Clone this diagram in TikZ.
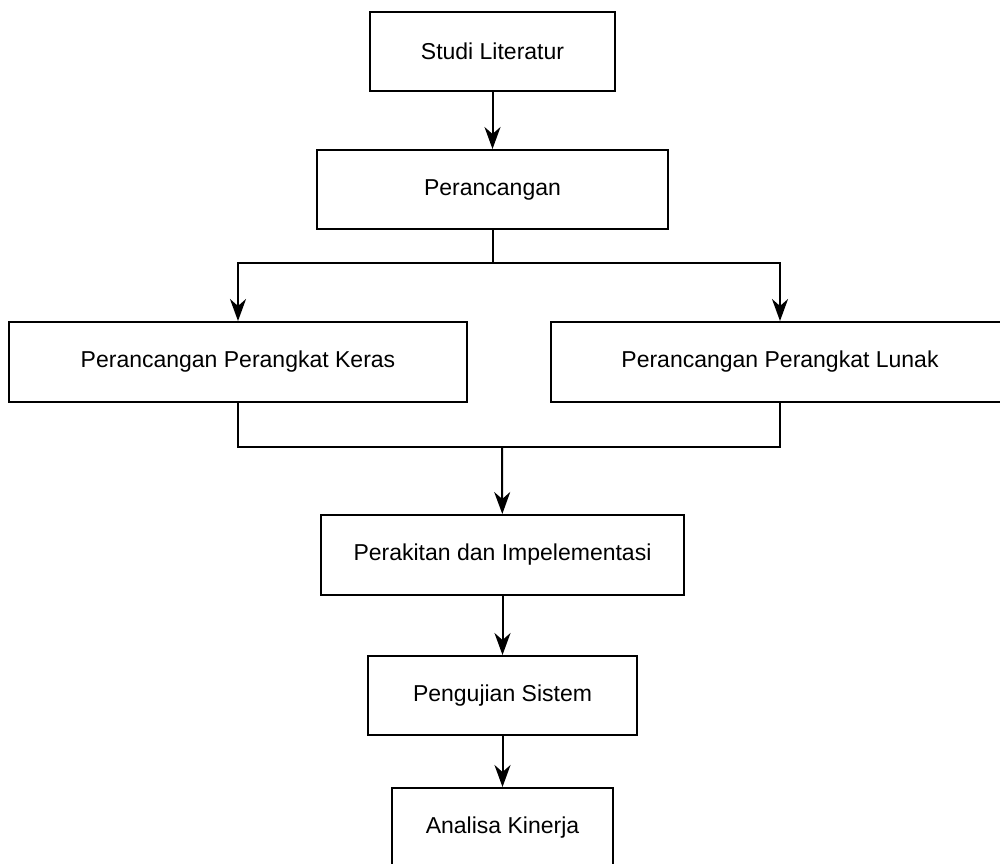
\documentclass[tikz,border=0pt]{standalone}
\usepackage{fontspec}
\setmainfont{Liberation Sans}
\usetikzlibrary{arrows.meta}

\begin{document}
\begin{tikzpicture}[x=0.5pt, y=-0.5pt,
    box/.style={draw, line width=1pt, fill=white, inner sep=0pt, font=\fontsize{11.5}{14}\selectfont},
    flow/.style={line width=1pt, -{Stealth[length=11pt, width=8pt, inset=3.5pt]}},
    link/.style={line width=1pt}]
    \useasboundingbox (0, 0) rectangle (1000, 863);
    \clip (0, 0) rectangle (1000, 863);

    % Boxes
    \node[box, minimum width=122.5pt, minimum height=39.5pt] (studi) at (492.5, 51.5) {Studi Literatur};
    \node[box, minimum width=175.5pt, minimum height=39.5pt] (peran) at (492.5, 189.5) {Perancangan};
    \node[box, minimum width=229pt, minimum height=40pt] (keras) at (238, 362) {Perancangan Perangkat Keras};
    \node[box, minimum width=229pt, minimum height=40pt] (lunak) at (780, 362) {Perancangan Perangkat Lunak};
    \node[box, minimum width=181.5pt, minimum height=40pt] (rakit) at (502.5, 555) {Perakitan dan Impelementasi};
    \node[box, minimum width=134.5pt, minimum height=39.5pt] (uji) at (502.5, 695.5) {Pengujian Sistem};
    \node[box, minimum width=110.5pt, minimum height=40pt] (analisa) at (502.5, 828) {Analisa Kinerja};

    % Branch and join points
    \coordinate (split) at (492.5, 263);
    \coordinate (join) at (502, 447);

    % Connectors
    \draw[flow] (studi) -- (peran);
    \draw[link] (peran) -- (split);
    \draw[flow] (split) -| (keras);
    \draw[flow] (split) -| (lunak);
    \draw[link] (keras) |- (join);
    \draw[link] (lunak) |- (join);
    \draw[flow] (join) -- (rakit);
    \draw[flow] (rakit) -- (uji);
    \draw[flow] (uji) -- (analisa);
\end{tikzpicture}
\end{document}
